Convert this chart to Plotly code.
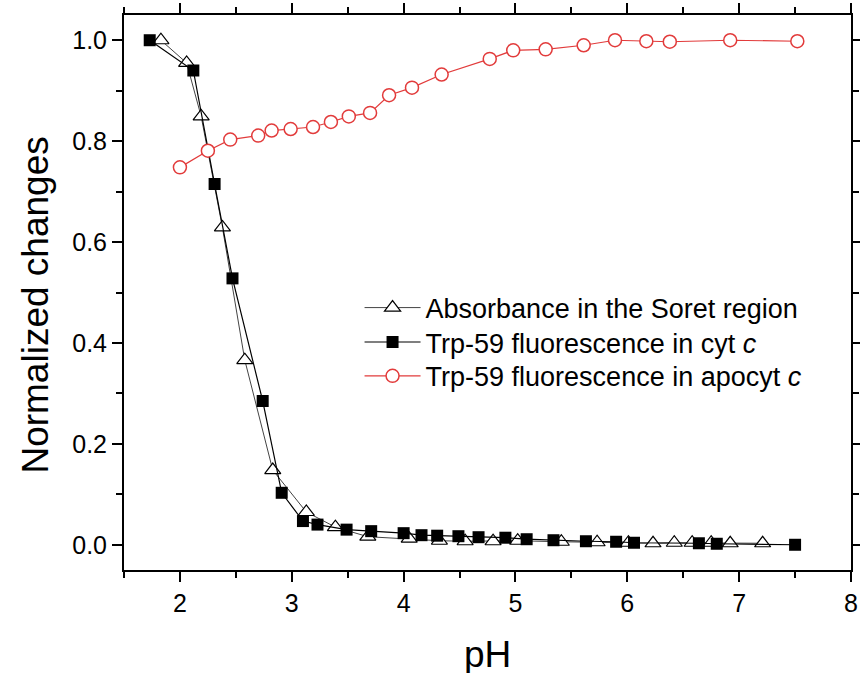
import plotly.graph_objects as go

# Absorbance in the Soret region (open triangles)
abs_ph = [1.83, 2.06, 2.19, 2.38, 2.58, 2.83, 3.13, 3.39, 3.68, 4.05, 4.32, 4.55, 4.80,
          5.02, 5.41, 5.73, 6.01, 6.23, 6.42, 6.58, 6.75, 6.92, 7.21]
abs_val = [1.0, 0.955, 0.849, 0.629, 0.366, 0.148, 0.065, 0.035, 0.016, 0.012, 0.008, 0.007,
           0.007, 0.008, 0.006, 0.005, 0.004, 0.003, 0.004, 0.004, 0.004, 0.003, 0.003]

# Trp-59 fluorescence in cyt c (filled squares)
cyt_ph = [1.73, 2.12, 2.31, 2.47, 2.74, 2.91, 3.10, 3.23, 3.49, 3.71, 4.00, 4.16, 4.30,
          4.49, 4.67, 4.91, 5.10, 5.34, 5.63, 5.90, 6.06, 6.64, 6.80, 7.50]
cyt_val = [1.0, 0.94, 0.715, 0.528, 0.285, 0.103, 0.047, 0.040, 0.030, 0.027, 0.023, 0.019,
           0.018, 0.017, 0.015, 0.014, 0.011, 0.009, 0.007, 0.006, 0.004, 0.003, 0.002, 0.0]

# Trp-59 fluorescence in apocyt c (open red circles)
apo_ph = [2.0, 2.25, 2.45, 2.70, 2.82, 2.99, 3.19, 3.35, 3.51, 3.70, 3.87, 4.075, 4.34,
          4.77, 4.98, 5.27, 5.61, 5.89, 6.17, 6.38, 6.92, 7.52]
apo_val = [0.748, 0.781, 0.803, 0.811, 0.821, 0.824, 0.828, 0.838, 0.849, 0.856, 0.891,
           0.906, 0.932, 0.963, 0.980, 0.982, 0.990, 1.0, 0.998, 0.997, 1.0, 0.998]

x_range = [1.5, 8]
y_range = [-0.05, 1.05]
x_ticks = [2, 3, 4, 5, 6, 7, 8]
y_ticks = [0.0, 0.2, 0.4, 0.6, 0.8, 1.0]

FONT = "Liberation Sans, Arial, sans-serif"
RED = "#e23b3b"

fig = go.Figure()
fig.add_trace(go.Scatter(
    x=abs_ph, y=abs_val, mode="lines+markers", name="Absorbance in the Soret region",
    legend="legend",
    line=dict(color="#444444", width=1),
    marker=dict(symbol="triangle-up", size=14, color="white",
                line=dict(color="black", width=1.2))))
fig.add_trace(go.Scatter(
    x=cyt_ph, y=cyt_val, mode="lines+markers", name="Trp-59 fluorescence in cyt <i>c</i>",
    legend="legend2",
    line=dict(color="black", width=1.2),
    marker=dict(symbol="square", size=12, color="black",
                line=dict(color="black", width=0))))
fig.add_trace(go.Scatter(
    x=apo_ph, y=apo_val, mode="lines+markers", name="Trp-59 fluorescence in apocyt <i>c</i>",
    legend="legend3",
    line=dict(color=RED, width=1.2),
    marker=dict(symbol="circle", size=13, color="white",
                line=dict(color=RED, width=1.5))))

legend_common = dict(xanchor="left", yanchor="middle", x=0.324,
                     bgcolor="rgba(0,0,0,0)", borderwidth=0,
                     font=dict(size=27, family=FONT, color="black"), itemwidth=56)

fig.update_layout(
    width=860, height=673,
    margin=dict(l=124, r=9, t=15, b=103, autoexpand=False),
    paper_bgcolor="white", plot_bgcolor="white",
    font=dict(family=FONT, color="black"),
    xaxis=dict(range=x_range, tickvals=x_ticks, ticks="outside", ticklen=10,
               tickwidth=2, tickcolor="black", automargin=False,
               tickfont=dict(size=25), mirror="allticks",
               showline=True, linecolor="black", linewidth=2, showgrid=False, zeroline=False,
               minor=dict(dtick=0.5, tick0=1.5, ticks="outside", ticklen=6,
                          tickwidth=2, tickcolor="black", showgrid=False)),
    yaxis=dict(range=y_range, tickvals=y_ticks, tickformat=".1f",
               ticks="outside", ticklen=10, tickwidth=2, tickcolor="black",
               automargin=False,
               tickfont=dict(size=25), mirror="allticks",
               showline=True, linecolor="black", linewidth=2, showgrid=False, zeroline=False,
               minor=dict(dtick=0.1, tick0=0, ticks="outside", ticklen=6,
                          tickwidth=2, tickcolor="black", showgrid=False)),
    legend=dict(y=0.472, **legend_common),
    legend2=dict(y=0.410, **legend_common),
    legend3=dict(y=0.349, **legend_common),
    annotations=[
        dict(text="Normalized changes", textangle=-90, xref="paper", yref="paper",
             x=-0.122, y=0.477, xanchor="center", yanchor="middle",
             showarrow=False, font=dict(size=37, family=FONT, color="black")),
        dict(text="pH", xref="paper", yref="paper", x=0.5, y=-0.153,
             xanchor="center", yanchor="middle",
             showarrow=False, font=dict(size=37, family=FONT, color="black")),
    ],
    showlegend=True,
)

fig.write_html("out.html")
